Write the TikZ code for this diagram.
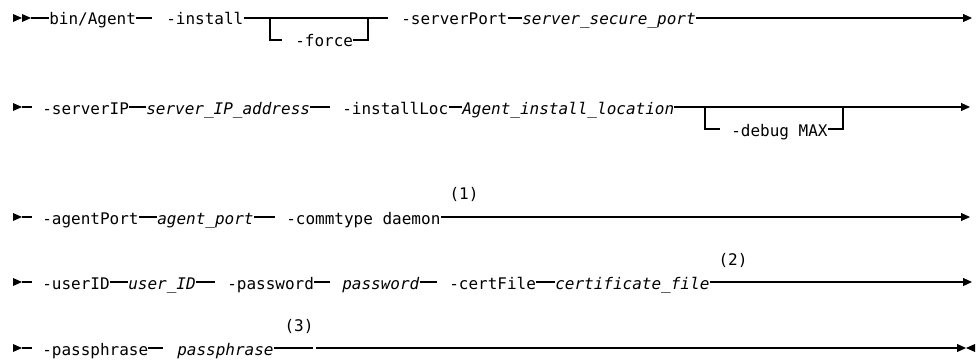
\documentclass[tikz,border=0pt]{standalone}
\usepackage{fontspec}
\setmonofont{DejaVu Sans Mono}
\usetikzlibrary{arrows.meta}
\tikzset{
  kw/.style={anchor=west, inner sep=0pt, text height=10.5pt, text depth=0pt,
             font=\ttfamily\fontsize{12}{14}\selectfont},
  var/.style={kw, font=\ttfamily\itshape\fontsize{12}{14}\selectfont},
  fn/.style={inner sep=0pt, font=\ttfamily\fontsize{12}{14}\selectfont},
  rail/.style={line width=0.8pt},
  endarrow/.style={rail, -{Triangle[length=6.75pt,width=6pt]}},
  starttri/.pic={\fill (0,-4) -- (9,0) -- (0,4) -- cycle;}
}
\begin{document}
\begin{tikzpicture}[x=0.75pt,y=-0.75pt]
\useasboundingbox (0,0) rectangle (980,360);

% ---------- Row 1 ----------
\pic at (13,18) {starttri};
\pic at (22,18) {starttri};
\coordinate (s1) at (31,18);
\node[kw] (binagent) at (49,18) {bin/Agent};
\coordinate (c1a) at (152,18);
\node[kw] (install) at (166,18) {-install};
\coordinate (b1a) at (270,18);
\coordinate (f1) at (282,40);
\node[kw] (force) at (295,40) {-force};
\coordinate (b1b) at (368,18);
\coordinate (j1) at (388,18);
\node[kw] (serverport) at (401,18) {-serverPort};
\node[var] (serversecureport) at (522,18) {server\_secure\_port};
\coordinate (e1) at (972,18);
\draw[rail] (s1) -- (binagent);
\draw[rail] (binagent) -- (c1a);
\draw[rail] (install) -- (j1);
\draw[rail] (b1a) |- (f1);
\draw[rail] (force) -| (b1b);
\draw[rail] (serverport) -- (serversecureport);
\draw[endarrow] (serversecureport) -- (e1);

% ---------- Row 2 ----------
\pic at (13,107) {starttri};
\coordinate (s2) at (22,107);
\coordinate (c2) at (32,107);
\node[kw] (serverip) at (42,107) {-serverIP};
\node[var] (serveripaddr) at (146,107) {server\_IP\_address};
\coordinate (c2b) at (330,107);
\node[kw] (installloc) at (342,107) {-installLoc};
\node[var] (installlocation) at (462,107) {Agent\_install\_location};
\coordinate (b2a) at (705,107);
\coordinate (d2) at (720,129);
\node[kw] (debug) at (731,129) {-debug MAX};
\coordinate (b2b) at (843,107);
\coordinate (e2) at (970,107);
\draw[rail] (s2) -- (c2);
\draw[rail] (serverip) -- (serveripaddr);
\draw[rail] (serveripaddr) -- (c2b);
\draw[rail] (installloc) -- (installlocation);
\draw[endarrow] (installlocation) -- (e2);
\draw[rail] (b2a) |- (d2);
\draw[rail] (debug) -| (b2b);

% ---------- Row 3 ----------
\pic at (13,217) {starttri};
\coordinate (s3) at (22,217);
\coordinate (c3) at (32,217);
\node[kw] (agentport) at (42,217) {-agentPort};
\node[var] (agentportv) at (157,217) {agent\_port};
\coordinate (c3b) at (275,217);
\node[kw] (commtype) at (286,217) {-commtype daemon};
\coordinate (e3) at (970,217);
\node[fn] (fn1) at (464,194) {(1)};
\draw[rail] (s3) -- (c3);
\draw[rail] (agentport) -- (agentportv);
\draw[rail] (agentportv) -- (c3b);
\draw[endarrow] (commtype) -- (e3);

% ---------- Row 4 ----------
\pic at (13,282) {starttri};
\coordinate (s4) at (22,282);
\coordinate (c4) at (32,282);
\node[kw] (userid) at (42,282) {-userID};
\node[var] (useridv) at (128,282) {user\_ID};
\coordinate (c4a) at (215,282);
\node[kw] (password) at (227,282) {-password};
\coordinate (c4b) at (330,282);
\node[var] (passwordv) at (342,282) {password};
\coordinate (c4c) at (437,282);
\node[kw] (certfile) at (449,282) {-certFile};
\node[var] (certfilev) at (555,282) {certificate\_file};
\coordinate (e4) at (972,282);
\node[fn] (fn2) at (733,260) {(2)};
\draw[rail] (s4) -- (c4);
\draw[rail] (userid) -- (useridv);
\draw[rail] (useridv) -- (c4a);
\draw[rail] (password) -- (c4b);
\draw[rail] (passwordv) -- (c4c);
\draw[rail] (certfile) -- (certfilev);
\draw[endarrow] (certfilev) -- (e4);

% ---------- Row 5 ----------
\pic at (13,348) {starttri};
\coordinate (s5) at (22,348);
\coordinate (c5) at (32,348);
\node[kw] (passphrase) at (42,348) {-passphrase};
\coordinate (c5a) at (163,348);
\node[var] (passphrasev) at (177,348) {passphrase};
\coordinate (g5a) at (313,348);
\coordinate (g5b) at (316,348);
\coordinate (e5) at (966,348);
\node[fn] (fn3) at (299,326) {(3)};
\draw[rail] (s5) -- (c5);
\draw[rail] (passphrase) -- (c5a);
\draw[rail] (passphrasev) -- (g5a);
\draw[endarrow] (g5b) -- (e5);
\fill (975,344) -- (966,348) -- (975,352) -- cycle;
\end{tikzpicture}
\end{document}
